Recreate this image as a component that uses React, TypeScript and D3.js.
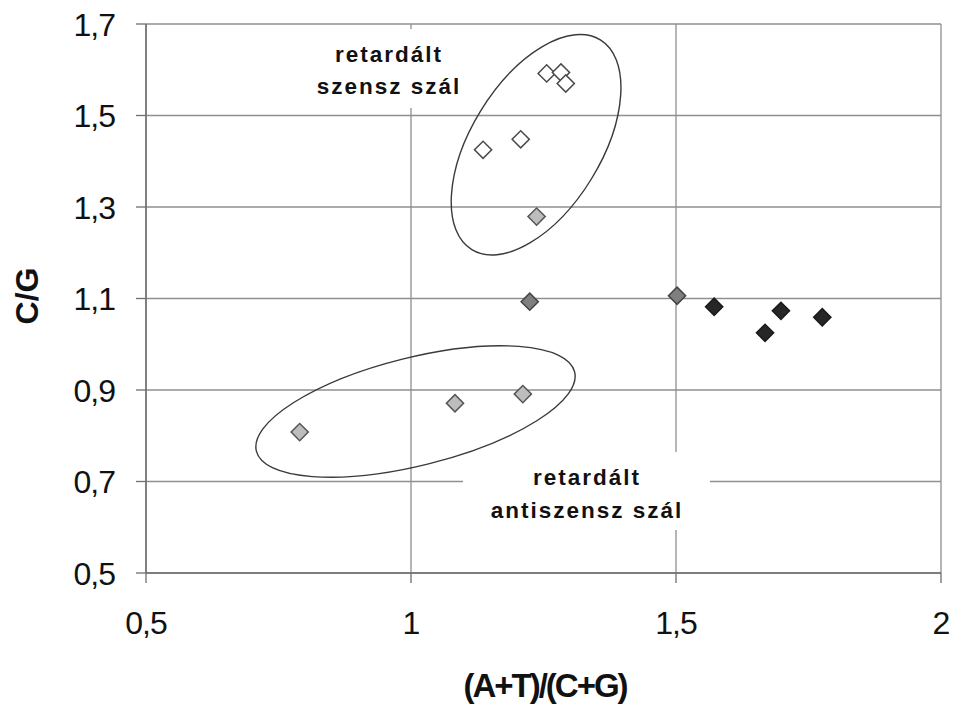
import { useMemo } from "react";
import * as d3 from "d3";

const width = 954;
const height = 706;
const M = { left: 146, right: 13, top: 24, bottom: 133 };

// (A+T)/(C+G) vs C/G for each group
const senseX = [1.256, 1.283, 1.292, 1.207, 1.136];
const senseY = [1.592, 1.594, 1.57, 1.448, 1.425];
const lightX = [1.237, 0.79, 1.083, 1.211];
const lightY = [1.279, 0.808, 0.871, 0.891];
const midX = [1.224, 1.502];
const midY = [1.093, 1.106];
const darkX = [1.572, 1.668, 1.698, 1.776];
const darkY = [1.082, 1.025, 1.073, 1.059];

const xTicks = [0.5, 1, 1.5, 2];
const yTicks = [0.5, 0.7, 0.9, 1.1, 1.3, 1.5, 1.7];

const labelTop = ["retardált", "szensz szál"];
const labelBottom = ["retardált", "antiszensz szál"];

const fmt = (v: number) => String(v).replace(".", ",");

export default function App() {
  const x = useMemo(
    () => d3.scaleLinear().domain([0.5, 2]).range([M.left, width - M.right]),
    []
  );
  const y = useMemo(
    () => d3.scaleLinear().domain([0.5, 1.7]).range([height - M.bottom, M.top]),
    []
  );

  const diamond = d3.symbol(d3.symbolSquare, 148)()!;

  const series = [
    { xs: senseX, ys: senseY, fill: "#ffffff", stroke: "#4a4a4a" },
    { xs: lightX, ys: lightY, fill: "#bdbdbd", stroke: "#555555" },
    { xs: midX, ys: midY, fill: "#7f7f7f", stroke: "#444444" },
    { xs: darkX, ys: darkY, fill: "#262626", stroke: "#1a1a1a" },
  ];

  const x0 = x(0.5), x1 = x(2), y0 = y(0.5), y1 = y(1.7);

  return (
    <svg
      width={width}
      height={height}
      style={{ position: "absolute", left: 0, top: 0, background: "#fff" }}
      fontFamily="'Liberation Sans', Arial, sans-serif"
    >
      {/* grid */}
      {yTicks.map((t) => (
        <line key={"gy" + t} x1={x0} x2={x1} y1={y(t)} y2={y(t)} stroke="#8f8f8f" strokeWidth={1.3} />
      ))}
      {xTicks.map((t) => (
        <line key={"gx" + t} x1={x(t)} x2={x(t)} y1={y1} y2={y0} stroke="#8f8f8f" strokeWidth={1.3} />
      ))}

      {/* label boxes hide the grid */}
      <rect x={322} y={29} width={140} height={79} fill="#fff" />
      <rect x={463} y={452} width={247} height={78} fill="#fff" />

      {/* axes */}
      <line x1={x0} x2={x0} y1={y1} y2={y0} stroke="#6e6e6e" strokeWidth={1.5} />
      <line x1={x0} x2={x1} y1={y0} y2={y0} stroke="#6e6e6e" strokeWidth={1.5} />
      {yTicks.map((t) => (
        <g key={"ty" + t}>
          <line x1={x0 - 10} x2={x0} y1={y(t)} y2={y(t)} stroke="#6e6e6e" strokeWidth={1.3} />
          <text x={115} y={y(t)} dy="0.36em" textAnchor="end" fontSize={32} letterSpacing={-1} fill="#111">
            {fmt(t)}
          </text>
        </g>
      ))}
      {xTicks.map((t) => (
        <g key={"tx" + t}>
          <line x1={x(t)} x2={x(t)} y1={y0} y2={y0 + 10} stroke="#6e6e6e" strokeWidth={1.3} />
          <text x={x(t)} y={634} textAnchor="middle" fontSize={32} letterSpacing={-1} fill="#111">
            {fmt(t)}
          </text>
        </g>
      ))}

      <text x={545} y={697} textAnchor="middle" fontSize={33} fontWeight={700} letterSpacing={-2} fill="#111">
        (A+T)/(C+G)
      </text>
      <text
        transform={`translate(38, 296) rotate(-90)`}
        textAnchor="middle"
        fontSize={32}
        fontWeight={700}
        fill="#111"
      >
        C/G
      </text>

      {/* group ellipses */}
      <ellipse
        cx={0} cy={0} rx={123} ry={65}
        transform={`translate(${x(1.236)}, ${y(1.436)}) rotate(-58.5)`}
        fill="none" stroke="#3a3a3a" strokeWidth={1.4}
      />
      <ellipse
        cx={0} cy={0} rx={164} ry={54}
        transform={`translate(${x(1.0085)}, ${y(0.853)}) rotate(-14)`}
        fill="none" stroke="#3a3a3a" strokeWidth={1.4}
      />

      {/* points */}
      {series.map((s, si) =>
        s.xs.map((v, i) => (
          <path
            key={si + "-" + i}
            d={diamond}
            transform={`translate(${x(v)}, ${y(s.ys[i])}) rotate(45)`}
            fill={s.fill}
            stroke={s.stroke}
            strokeWidth={1.5}
          />
        ))
      )}

      {/* annotations */}
      <text textAnchor="middle" fontSize={22.5} fontWeight={700} letterSpacing={2} fill="#111">
        {labelTop.map((l, i) => (
          <tspan key={i} x={389} y={62 + i * 31.6}>{l}</tspan>
        ))}
      </text>
      <text textAnchor="middle" fontSize={22.5} fontWeight={700} letterSpacing={2} fill="#111">
        {labelBottom.map((l, i) => (
          <tspan key={i} x={587} y={485 + i * 33}>{l}</tspan>
        ))}
      </text>
    </svg>
  );
}
